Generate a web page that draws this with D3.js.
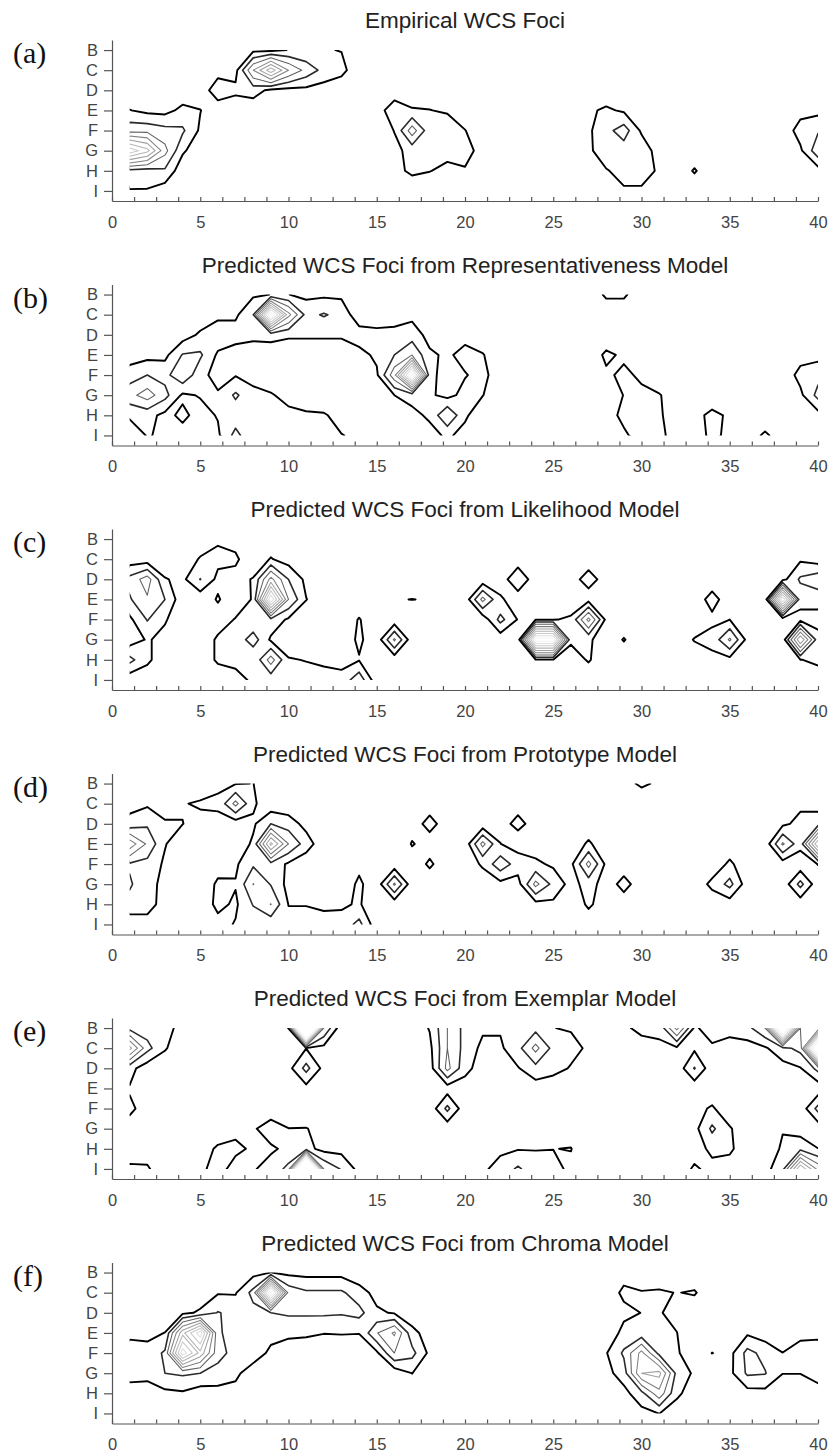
<!DOCTYPE html>
<html>
<head>
<meta charset="utf-8">
<script src="https://cdn.jsdelivr.net/npm/d3@7"></script>
<style>
  body { margin: 0; background: #fff; }
</style>
</head>
<body>
<div id="chart"></div>
<script>
var width = 834;
var height = 1456;

// WCS grid: rows B..I, columns 1..40
var rowNames = ["B", "C", "D", "E", "F", "G", "H", "I"];
var nCols = 40;
var levels = [2, 5, 8, 11, 14, 17, 20, 23, 26, 29];
var xTickValues = d3.range(0, 40.001, 1.25);

var titles = [
  "Empirical WCS Foci",
  "Predicted WCS Foci from Representativeness Model",
  "Predicted WCS Foci from Likelihood Model",
  "Predicted WCS Foci from Prototype Model",
  "Predicted WCS Foci from Exemplar Model",
  "Predicted WCS Foci from Chroma Model"
];
var panelLabels = ["(a)", "(b)", "(c)", "(d)", "(e)", "(f)"];

// foci density: [row, first column, values...]; cells not listed are 0
var fociA = [
  ["B", 8, [1.2, 1.2, 2.1, 2.3, 2.2, 1.9]],
  ["C", 6, [0.67, 1, 11, 19, 11, 7, 4, 2.9]],
  ["D", 5, [0, 4, 2.67, 3.3, 1.3, 1, 1.1, 0.67]],
  ["D", 16, [1]],
  ["E", 1, [2.1, 1.2, 1.0, 2.8, 2.1]],
  ["E", 15, [1.2, 3, 2.3, 2.1, 1.5]],
  ["E", 27, [1.5, 2.5, 1.56]],
  ["E", 39, [0.9, 1.12]],
  ["F", 1, [7, 7, 6, 5.5, 1.5]],
  ["F", 16, [2.1, 9.7, 3, 4.5, 2.1]],
  ["F", 27, [1.5, 4, 6.5, 1.5]],
  ["F", 39, [3.33, 4.65]],
  ["G", 1, [22, 18, 9, 2.5]],
  ["G", 16, [1.2, 3, 3, 3, 4]],
  ["G", 27, [1.5, 3.5, 3.5, 4, 0.5]],
  ["G", 39, [1.44, 7]],
  ["H", 1, [4, 3.6, 4.5]],
  ["H", 16, [1.1, 2.6, 2.1, 1.2, 1.5]],
  ["H", 28, [1.8, 2.9, 3.5, 1.5]],
  ["H", 33, [2.3]],
  ["H", 39, [0.3, 0.7]],
  ["I", 1, [1.8, 1.8, 0.3]],
  ["I", 29, [1.7, 1.5]]
];

var fociB = [
  ["B", 8, [1.5, 2.05, 2.05, 1.3, 1.4, 1.4]],
  ["B", 28, [2.5, 2.5]],
  ["C", 6, [1.2, 1.4, 5, 30, 12, 4, 5.3, 4, 0, 0, 0.5, 1.2]],
  ["D", 4, [0.5, 2.5, 4, 3.5, 2.8, 3, 2.4, 2.4, 2.4, 2.4, 3.5, 3, 3, 3.5, 1, 0.5, 1]],
  ["E", 1, [0.5, 1, 1.2, 5.2, 5.5, 1.5, 0.3, 0.3, 0.3, 0.3, 0.3, 0.3, 0.3, 1, 2.6, 5, 8, 2.5, 1.5, 3, 2.2]],
  ["E", 28, [2.6, 1.5]],
  ["E", 39, [0.8, 1]],
  ["F", 1, [3.5, 5, 4, 7.5, 3, 0.8, 1.8, 1]],
  ["F", 15, [1.5, 10, 30, 3, 0.5, 1.8, 3]],
  ["F", 28, [1.5, 2.6, 1.5]],
  ["F", 39, [3, 4]],
  ["G", 1, [7, 9.5, 6, 1.5, 2.2, 2.4, 5.5, 2.8, 2.3, 1]],
  ["G", 15, [1, 2, 3, 2.5, 1, 3, 2.1]],
  ["G", 29, [2.1, 2.6, 2.2, 0.5]],
  ["G", 39, [1.3, 6]],
  ["H", 1, [2.5, 3, 1.2, 2.6, 1, 2.2, 3.2, 3, 2.8, 2.8, 2.5, 2.3, 1]],
  ["H", 17, [1.2, 2.5, 8, 2.5]],
  ["H", 28, [1.5, 2.3, 2.8, 2.4, 0.5, 1, 2.8, 1.5]],
  ["H", 39, [0.3, 0.8]],
  ["I", 1, [0, 2.2, 1.5, 1, 0.5, 1.5, 6, 2.5, 2.5, 2.5, 2.5, 2.3, 2.1, 1.5]],
  ["I", 18, [1, 2.5, 1]],
  ["I", 29, [1.8, 2.5, 2.6, 1, 1, 2.5, 1.5, 0.5, 2.5, 0.5]]
];

var fociC = [
  ["B", 5, [0, 1.6, 1]],
  ["C", 1, [0.3, 0.3, 0, 0, 2.3, 2.8, 2.5]],
  ["C", 9, [2.2, 0.7]],
  ["C", 23, [1.3]],
  ["C", 27, [0.8]],
  ["C", 39, [1.5, 0.5]],
  ["D", 1, [6, 9.5, 2.2, 1.3, 5.1, 1.2, 1, 2.2, 12, 5, 1.25]],
  ["D", 21, [0, 1.3, 3, 1.3]],
  ["D", 26, [1, 3, 1]],
  ["D", 34, [0.8]],
  ["D", 38, [1, 5.5, 7]],
  ["E", 1, [4.67, 7.6, 5, 0, 0, 2.3, 0, 2.3, 26, 8, 2.1]],
  ["E", 16, [1.8, 2.05, 1.8]],
  ["E", 20, [0, 9, 2.2, 1.3]],
  ["E", 27, [0.8]],
  ["E", 33, [0.8, 2.8, 0.8]],
  ["E", 37, [0, 26, 3, 3]],
  ["F", 1, [1.33, 5.2, 2.3, 0, 0, 0.5, 2.2, 2.5, 4, 1.5]],
  ["F", 14, [2.2]],
  ["F", 21, [0, 6, 1.8, 1.8, 1.8, 2.5, 12, 1.2]],
  ["F", 34, [1.5, 2.0]],
  ["F", 38, [0, 1, 1]],
  ["G", 1, [0.3, 2.3, 1.1, 0, 0, 2.5, 3, 6.5, 1.5, 0.5]],
  ["G", 14, [2.6, 0, 8.5]],
  ["G", 23, [0, 28, 28, 2.5, 2.6, 0, 2.2]],
  ["G", 33, [2.2, 2.8, 8.5, 1]],
  ["G", 38, [0, 17, 3]],
  ["H", 1, [6, 2.5, 0.5, 0, 0, 2.5, 2.8, 2.3, 9.5, 2.2, 1.9, 1.5, 1, 1.8]],
  ["H", 24, [1.8, 1.8, 0.5, 2.3]],
  ["H", 34, [1.3, 1]],
  ["H", 39, [1.9, 2.6]],
  ["I", 1, [0, 0.5]],
  ["I", 7, [1, 2.5, 3, 3, 3, 3, 3, 7, 0]],
  ["I", 40, [0.5]]
];

var fociD = [
  ["B", 6, [1.5, 1.8, 2.05]],
  ["B", 29, [1, 2.5, 1.5]],
  ["C", 1, [1, 1.5, 1.2, 1.8, 2.4, 2.5, 9, 2.5, 0]],
  ["C", 18, [1.15]],
  ["C", 23, [1.2]],
  ["C", 39, [1.33, 1]],
  ["D", 1, [3, 4.5, 2.2, 2.05, 1, 1.2, 0.3, 1.5, 5, 3.5, 1]],
  ["D", 17, [1.15, 2.6, 1.15]],
  ["D", 22, [1.2, 2.6, 1.2]],
  ["D", 38, [1.3, 3, 3.5]],
  ["E", 1, [13, 7.5, 2.2, 0, 0, 0, 0, 2.5, 18, 8, 3.5]],
  ["E", 17, [2.15, 1.15]],
  ["E", 20, [0, 9, 2.05, 0.8, 0.5]],
  ["E", 27, [2.5]],
  ["E", 37, [0, 8.5, 3, 20]],
  ["F", 1, [4.6, 4, 1.5, 0, 0, 0.8, 1.5, 4.5, 4, 1.5]],
  ["F", 14, [1.2]],
  ["F", 17, [0.9, 2.3, 0.9]],
  ["F", 20, [0, 2.5, 7, 3.5, 2.6, 1.5, 1.2, 9, 1.2, 0.8]],
  ["F", 35, [2.6]],
  ["F", 38, [0.5, 0, 2.1]],
  ["G", 1, [5.4, 3, 1.2, 0, 0, 2.5, 2.2, 8.1, 4.8, 1]],
  ["G", 14, [2.6, 0, 8.5, 0, 0.9]],
  ["G", 21, [0, 1.05, 0.77, 9, 4, 1, 3.1, 0.8, 2.8, 0.8]],
  ["G", 33, [0, 2.8, 6, 0.3]],
  ["G", 39, [6, 0]],
  ["H", 1, [4, 3, 1, 0, 0, 2.8, 1.5, 5.2, 8.1, 1.9, 1.9, 1.5, 1.6, 2.3]],
  ["H", 24, [0.86, 1.4, 0, 2.5, 0.5, 0.8]],
  ["H", 35, [0.3]],
  ["I", 1, [0, 1, 0, 0, 0, 1, 2.2, 3, 3, 3, 3, 3, 3, 6, 0]],
  ["I", 27, [0.33]]
];

var fociE = [
  ["B", 1, [4, 3.5, 3, 1]],
  ["B", 9, [0, 2.05, 60, 8, 0]],
  ["B", 17, [0, 2.2, 8, 4, 2.5, 2.3, 2.5, 4, 2.05, 1.75]],
  ["B", 29, [1.8, 2.3, 2.5, 12, 1.5, 3.5, 3, 4, 8, 40, 8, 8]],
  ["C", 1, [15, 6, 2.3, 0]],
  ["C", 10, [0.5, 1.9, 1]],
  ["C", 18, [1.2, 8, 4, 1.2, 1.5, 4, 9, 4, 3, 1.5]],
  ["C", 30, [1.5, 1.6, 1.5, 1.5, 1.5, 0.8, 0.7, 1.6, 4, 6, 40]],
  ["D", 1, [3, 0.3]],
  ["D", 10, [1, 6, 1]],
  ["D", 18, [0.5, 9, 3, 0.5, 0.5, 1.8, 4, 3.1, 1.75]],
  ["D", 33, [5.2]],
  ["D", 37, [0.3, 0.8, 1.8, 6]],
  ["E", 1, [1.8]],
  ["E", 11, [1]],
  ["E", 19, [0.5, 0.5, 0, 0, 0, 0.5]],
  ["F", 1, [2.4, 1.2]],
  ["F", 9, [0.78]],
  ["F", 19, [5.8]],
  ["F", 33, [1, 2.4]],
  ["F", 39, [0, 6]],
  ["G", 1, [1.2]],
  ["G", 6, [0, 0.8, 1.75, 3, 2.05, 2.1, 1.2]],
  ["G", 26, [0.5]],
  ["G", 33, [1, 5.6, 2.3]],
  ["G", 38, [1.8, 0.67, 0]],
  ["H", 1, [0.5, 0.5]],
  ["H", 5, [0.5, 2.5, 3, 1.3, 1.7, 2.45, 3, 1, 1, 0.5]],
  ["H", 22, [1.46, 1.8, 1.9, 1.95, 2.1]],
  ["H", 33, [0.5, 2.8, 2.6]],
  ["H", 38, [2.5, 4, 2.05]],
  ["I", 1, [2.5, 2.4, 0, 0, 1, 3.8, 0.2, 1.8, 2.8, 6, 60, 8, 4.7, 1]],
  ["I", 21, [1.5, 3, 5.5, 3, 3, 1.3]],
  ["I", 33, [2.5, 1, 0.5]],
  ["I", 37, [1, 4, 20, 10]]
];

var fociF = [
  ["B", 8, [1, 2.05, 1.25, 1, 1, 1]],
  ["B", 29, [1, 1]],
  ["C", 6, [1.75, 1.75, 6, 30, 7, 5.5, 5.5, 5.5, 3.3, 1]],
  ["C", 28, [0.5, 2.55, 2.1, 2.4, 1.9, 2.3]],
  ["D", 4, [1.2, 2.5, 5.2, 4, 4, 5, 5.5, 5.5, 5.5, 5.3, 6, 2.5, 1.7]],
  ["D", 29, [1.33, 2.05, 2.2, 1.2]],
  ["E", 1, [1.5, 1.25, 2.05, 16, 25, 5.5, 3.5, 4.2, 2.6, 2.4, 2.3, 2.05, 2.1, 2.05, 7.8, 11.5, 3, 0.5]],
  ["E", 29, [2.86, 3, 2.5, 2.05]],
  ["E", 36, [1.5, 0.5, 0, 1.5, 1.5]],
  ["F", 1, [3, 3, 5.5, 25, 16, 6, 4, 3, 1.6, 1, 0.9, 0.9, 0.9, 1, 1.4, 8, 6, 1.25]],
  ["F", 28, [1.8, 5.5, 12, 4, 2.4, 0, 2.05, 1, 6, 4, 2.05, 2.8, 3]],
  ["G", 1, [3, 2.8, 5, 5.5, 5, 4, 2.4, 1, 0.5]],
  ["G", 17, [2.05]],
  ["G", 28, [1, 3.5, 14, 15, 4, 1.5, 0, 1.2, 5.5, 5.2, 2.05, 2.05, 3]],
  ["H", 1, [0.8, 0.8, 1.25, 1.6, 0.4, 0.8, 1.4]],
  ["H", 29, [1, 4, 10, 2.6, 0.5, 0, 0.5, 0.8, 1, 0.5, 0.5, 1]],
  ["I", 30, [1, 2.05, 0.5]]
];

var panels = [fociA, fociB, fociC, fociD, fociE, fociF];

// turn the listed cells into a full 40 x 8 grid for d3.contours
function buildGrid(entries) {
  var values = new Array(nCols * rowNames.length).fill(0);
  entries.forEach(function(e) {
    var r = rowNames.indexOf(e[0]);
    e[2].forEach(function(v, i) {
      values[r * nCols + (e[1] - 1) + i] = v;
    });
  });
  return values;
}

var svg = d3.select("#chart")
  .append("svg")
  .attr("width", width)
  .attr("height", height)
  .style("background", "#fff");

var panelTop = 40;
var panelStep = 244.5;
var plotHeight = 161;
var axisColor = "#555";
var fontSans = "'Liberation Sans', Arial, Helvetica, sans-serif";

var xScale = d3.scaleLinear().domain([0, 40]).range([112, 818]);
// contour colour: lowest level black, higher levels fade to near white
var shade = d3.scaleLinear()
  .domain([0, 1, 2, 4, 8])
  .range(["#000000", "#2a2a2a", "#606060", "#a0a0a0", "#f4f4f4"])
  .clamp(true);

panels.forEach(function(entries, i) {
  var top = panelTop + i * panelStep;
  var yScale = d3.scaleLinear().domain([0.5, 8.5]).range([top, top + plotHeight]);
  var g = svg.append("g");

  // title + panel letter
  g.append("text")
    .attr("x", 465)
    .attr("y", top - 12)
    .attr("text-anchor", "middle")
    .style("font-family", fontSans)
    .style("font-size", "22.5px")
    .style("fill", "#222")
    .text(titles[i]);

  g.append("text")
    .attr("x", 13)
    .attr("y", top + 23)
    .style("font-family", "'Liberation Serif', 'Times New Roman', serif")
    .style("font-size", "30px")
    .style("fill", "#111")
    .text(panelLabels[i]);

  // clip contour lines to the sampled area so edge lines stay open
  var clipId = "clip" + i;
  svg.append("clipPath").attr("id", clipId)
    .append("rect")
    .attr("x", xScale(1))
    .attr("y", yScale(1))
    .attr("width", xScale(40) - xScale(1))
    .attr("height", yScale(8) - yScale(1));

  var values = buildGrid(entries);
  var contours = d3.contours()
    .size([nCols, rowNames.length])
    .thresholds(levels)(values);

  // grid coords -> (column, row) -> pixels
  var proj = d3.geoTransform({
    point: function(px, py) {
      this.stream.point(xScale(px + 0.5), yScale(py + 0.5));
    }
  });
  var path = d3.geoPath(proj);

  g.append("g")
    .attr("clip-path", "url(#" + clipId + ")")
    .selectAll("path")
    .data(contours)
    .join("path")
    .attr("d", path)
    .attr("fill", "none")
    .attr("stroke", function(d, k) { return shade(k); })
    .attr("stroke-width", function(d, k) { return k === 0 ? 1.9 : (k === 1 ? 1.6 : 1.05); })
    .attr("stroke-linejoin", "round");

  // axes
  var xAxis = d3.axisBottom(xScale)
    .tickValues(xTickValues)
    .tickFormat(function(d) { return d % 5 === 0 ? d : ""; })
    .tickSizeInner(-4)
    .tickSizeOuter(0)
    .tickPadding(15);
  var xg = g.append("g")
    .attr("transform", "translate(0," + (top + plotHeight) + ")")
    .call(xAxis);

  var yAxis = d3.axisLeft(yScale)
    .tickValues(d3.range(1, 9))
    .tickFormat(function(d) { return rowNames[d - 1]; })
    .tickSizeInner(8)
    .tickSizeOuter(0)
    .tickPadding(6);
  var yg = g.append("g")
    .attr("transform", "translate(" + xScale(0) + ",0)")
    .call(yAxis);

  [xg, yg].forEach(function(ax) {
    ax.select(".domain").attr("stroke", axisColor).attr("stroke-width", 1.2);
    ax.selectAll(".tick line").attr("stroke", axisColor).attr("stroke-width", 1.2);
    ax.selectAll(".tick text")
      .style("font-family", fontSans)
      .style("font-size", "16.5px")
      .style("fill", "#444");
  });
});
</script>
</body>
</html>
